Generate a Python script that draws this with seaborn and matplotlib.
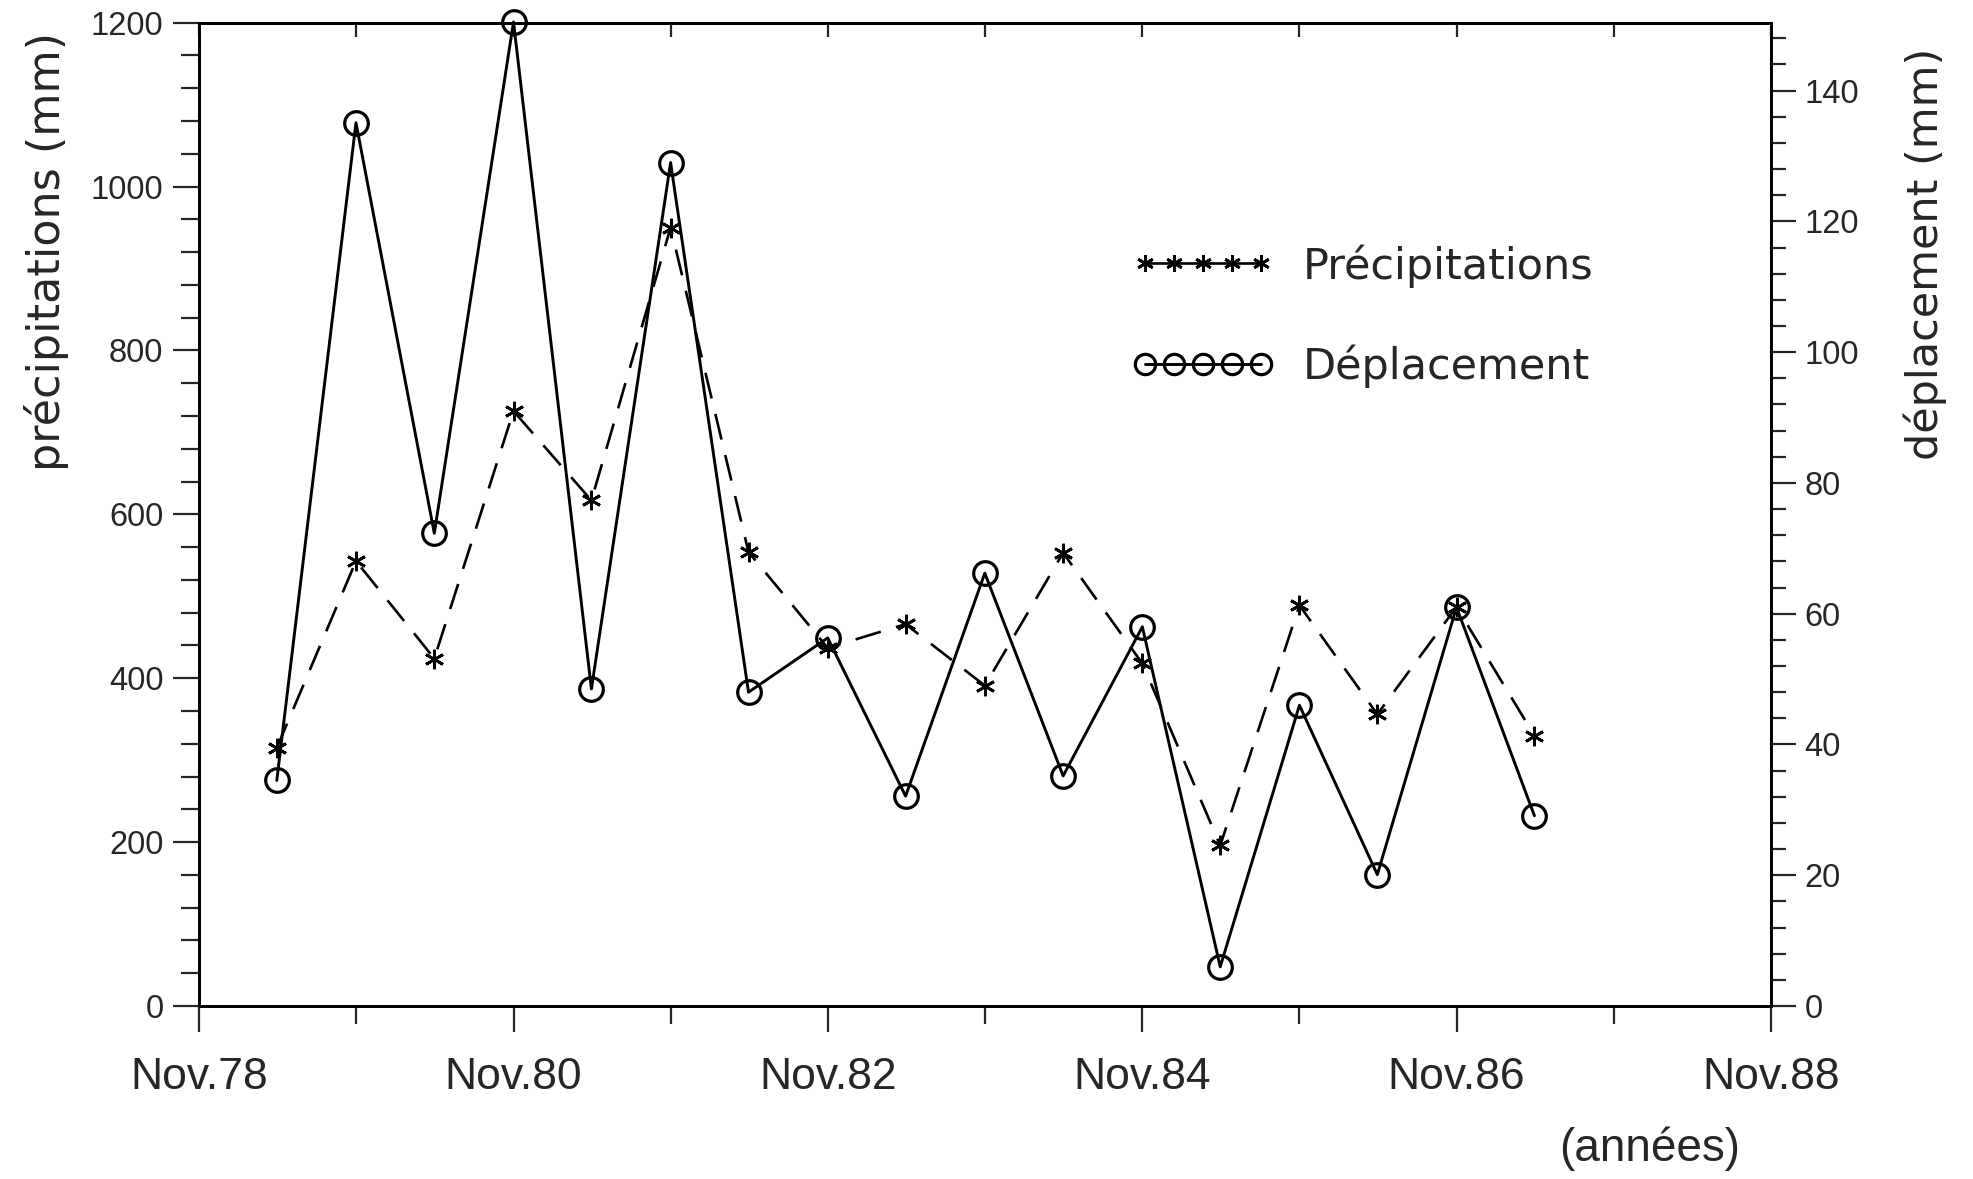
import numpy as np
import pandas as pd
import matplotlib
matplotlib.use("Agg")
import matplotlib.pyplot as plt
from matplotlib.ticker import MultipleLocator
import seaborn as sns

# mesures semestrielles (mai / novembre)
periodes = ["1979-05-01", "1979-11-01", "1980-05-01", "1980-11-01", "1981-05-01",
            "1981-11-01", "1982-05-01", "1982-11-01", "1983-05-01", "1983-11-01",
            "1984-05-01", "1984-11-01", "1985-05-01", "1985-11-01", "1986-05-01",
            "1986-11-01", "1987-05-01"]
precipitations = [315, 543, 424, 726, 617, 950, 554, 437, 466, 391,
                  553, 418, 196, 489, 356, 487, 330]
deplacement = [34.5, 135.1, 72.3, 150.5, 48.5, 129.0, 48.0, 56.3, 32.1, 66.2,
               35.2, 58.0, 6.0, 46.0, 20.1, 61.0, 29.1]

graduations = ["1978-11-01", "1980-11-01", "1982-11-01", "1984-11-01",
               "1986-11-01", "1988-11-01"]
graduations_min = ["1979-11-01", "1981-11-01", "1983-11-01", "1985-11-01",
                   "1987-11-01"]
etiquettes = ["Nov.78", "Nov.80", "Nov.82", "Nov.84", "Nov.86", "Nov.88"]

df = pd.DataFrame({"date": pd.to_datetime(periodes),
                   "precipitations": precipitations,
                   "deplacement": deplacement})

sns.set_style("ticks")
plt.rcParams["font.family"] = ["Liberation Sans", "DejaVu Sans"]

fig = plt.figure(figsize=(19.73, 11.79), dpi=100)
ax = fig.add_axes([0.1008, 0.1467, 0.7969, 0.8341])
ax2 = ax.twinx()

sns.lineplot(data=df, x="date", y="precipitations", ax=ax, color="black",
             lw=1.9, linestyle=(0, (10, 6)), marker=(6, 2, 0), markersize=14,
             markeredgecolor="black", markeredgewidth=2, legend=False,
             label="Précipitations")
sns.lineplot(data=df, x="date", y="deplacement", ax=ax2, color="black",
             lw=2.1, marker="o", markersize=17, markerfacecolor="none",
             markeredgecolor="black", markeredgewidth=2.3, legend=False,
             clip_on=False, label="Déplacement")

ax.set_xlim(pd.Timestamp("1978-11-01"), pd.Timestamp("1988-11-01"))
ax.set_ylim(0, 1200)
ax2.set_ylim(0, 150.4)

ax.set_xticks(pd.to_datetime(graduations), labels=etiquettes)
ax.set_xticks(pd.to_datetime(graduations_min), minor=True)
ax.yaxis.set_major_locator(MultipleLocator(200))
ax.yaxis.set_minor_locator(MultipleLocator(40))
ax2.yaxis.set_major_locator(MultipleLocator(20))
ax2.yaxis.set_minor_locator(MultipleLocator(4))

# graduations
ax.tick_params(axis="x", which="major", direction="out", length=19, width=1.6,
               pad=18, labelsize=32, top=False)
ax.tick_params(axis="x", which="minor", direction="out", length=13, width=1.6,
               top=False)
ax.tick_params(axis="y", which="major", direction="out", length=19, width=1.6,
               pad=6.5, labelsize=23.5)
ax.tick_params(axis="y", which="minor", direction="out", length=13, width=1.6)
ax2.tick_params(axis="y", which="major", direction="out", length=18, width=1.6,
                pad=6, labelsize=23.5)
ax2.tick_params(axis="y", which="minor", direction="out", length=11, width=1.6)

# petites graduations internes en haut
ax2.xaxis.set_visible(True)
ax2.xaxis.tick_top()
ax2.tick_params(axis="x", which="both", direction="in", length=10, width=1.6,
                labeltop=False, labelbottom=False, bottom=False)
ax2.set_xlabel("")

for a in (ax, ax2):
    for s in a.spines.values():
        s.set_linewidth(2)
        s.set_color("black")

ax.set_ylabel("précipitations (mm)", fontfamily="DejaVu Sans", fontsize=32,
              va="center", ha="center")
ax.yaxis.set_label_coords(-0.0966, 0.767)
ax2.set_ylabel("déplacement (mm)", fontfamily="DejaVu Sans", fontsize=31,
               va="center", ha="center")
ax2.yaxis.set_label_coords(1.098, 0.765)
ax.set_xlabel("(années)", fontsize=33, va="center", ha="center")
ax.xaxis.set_label_coords(0.923, -0.145)

handles = ax.get_lines() + ax2.get_lines()
leg = ax2.legend(handles=handles, labels=["Précipitations", "Déplacement"],
                 loc="upper left", bbox_to_anchor=(1132 / 1973, 1 - 244 / 1179),
                 bbox_transform=fig.transFigure, frameon=False, numpoints=5,
                 markerscale=0.86, handlelength=3.3, handletextpad=0.67,
                 labelspacing=1.33, borderpad=0, borderaxespad=0,
                 prop={"family": "DejaVu Sans", "size": 31})
leg.legend_handles[0].set_linestyle("-")

fig.savefig("out.png", dpi=100, facecolor="white")
